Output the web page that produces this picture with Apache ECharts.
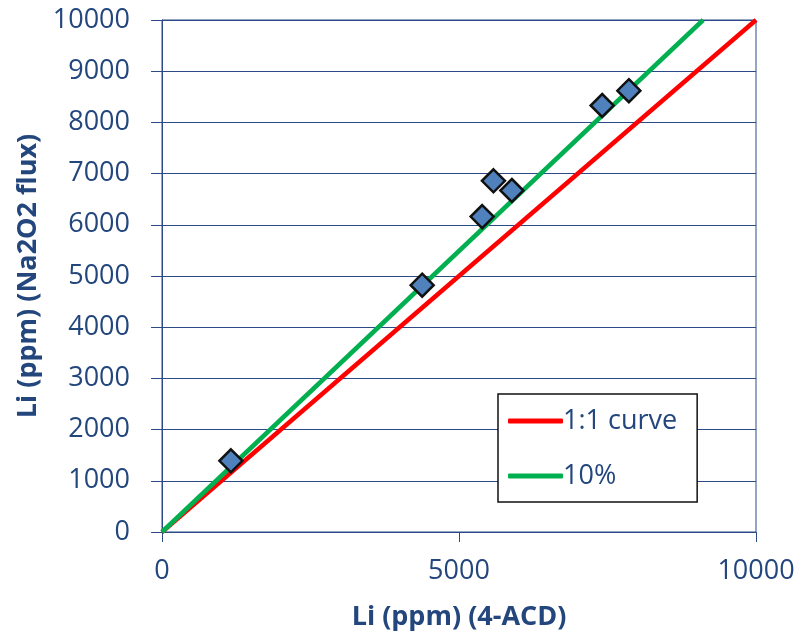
<!DOCTYPE html>
<html>
<head>
    <meta charset="utf-8">
    <title>Li (ppm) comparison</title>
    <script src="https://cdn.jsdelivr.net/npm/echarts@6/dist/echarts.min.js"></script>
    <style type="text/css">
        html, body { margin: 0; padding: 0; background: #ffffff; }
        #chart { width: 799px; height: 637px; }
    </style>
</head>
<body>
<div id="chart"></div>
<script>
    // values
    var pointsX = [1160, 4380, 5390, 5580, 5890, 7410, 7860];
    var pointsY = [1390, 4820, 6160, 6860, 6670, 8330, 8620];
    var oneToOneX = [0, 10000];
    var oneToOneY = [0, 10000];
    var tenPctX = [0, 9110];
    var tenPctY = [0, 10000];
    var seriesNames = ['1:1 curve', '10%'];

    function pairs(xs, ys) {
        var out = [];
        for (var i = 0; i < xs.length; i++) {
            out.push([xs[i], ys[i]]);
        }
        return out;
    }

    // plain numbers, no thousand separators
    function plain(v) {
        return String(v);
    }

    var textColor = '#23467d';
    var lineColor = '#2c4a86';
    var font = '"Open Sans", "DejaVu Sans", sans-serif';

    var chart = echarts.init(document.getElementById('chart'), null, {renderer: 'canvas'});
    var option = {
        animation: false,
        backgroundColor: '#ffffff',
        grid: {
            left: 162, right: 43, top: 20, bottom: 105,
            show: true,
            borderColor: lineColor,
            borderWidth: 1
        },
        legend: {
            data: seriesNames,
            orient: 'vertical',
            left: 498,
            top: 394,
            padding: [12, 20, 11, 10],
            itemGap: 25,
            itemWidth: 55,
            itemHeight: 5,
            icon: 'roundRect',
            backgroundColor: '#ffffff',
            borderColor: '#111111',
            borderWidth: 1.5,
            textStyle: {
                color: textColor,
                fontFamily: font,
                fontSize: 27,
                lineHeight: 30,
                padding: [0, 0, 0, -5]
            }
        },
        xAxis: {
            type: 'value',
            min: 0,
            max: 10000,
            interval: 5000,
            name: 'Li (ppm) (4-ACD)',
            nameLocation: 'middle',
            nameGap: 72,
            nameTextStyle: {
                color: textColor,
                fontFamily: font,
                fontWeight: 'bold',
                fontSize: 27
            },
            axisLine: {show: true, lineStyle: {color: lineColor, width: 1}},
            axisTick: {show: true, length: 10, lineStyle: {color: lineColor}},
            splitLine: {show: false},
            axisLabel: {
                color: textColor,
                fontFamily: font,
                fontSize: 27,
                margin: 26,
                formatter: plain
            }
        },
        yAxis: {
            type: 'value',
            min: 0,
            max: 10000,
            interval: 1000,
            name: 'Li (ppm) (Na2O2 flux)',
            nameLocation: 'middle',
            nameGap: 120,
            nameTextStyle: {
                color: textColor,
                fontFamily: font,
                fontWeight: 'bold',
                fontSize: 27
            },
            axisLine: {show: true, lineStyle: {color: lineColor, width: 1}},
            axisTick: {show: true, length: 11, lineStyle: {color: lineColor}},
            splitLine: {show: true, lineStyle: {color: lineColor, width: 1}},
            axisLabel: {
                color: textColor,
                fontFamily: font,
                fontSize: 27,
                margin: 32,
                formatter: plain
            }
        },
        series: [
            {
                name: seriesNames[0],
                type: 'line',
                data: pairs(oneToOneX, oneToOneY),
                symbol: 'none',
                color: '#ff0000',
                lineStyle: {color: '#ff0000', width: 4.5},
                z: 2
            },
            {
                name: seriesNames[1],
                type: 'line',
                data: pairs(tenPctX, tenPctY),
                symbol: 'none',
                color: '#00b050',
                lineStyle: {color: '#00b050', width: 4.5},
                z: 3
            },
            {
                name: 'samples',
                type: 'scatter',
                data: pairs(pointsX, pointsY),
                symbol: 'diamond',
                symbolSize: 23,
                itemStyle: {
                    color: '#4f81bd',
                    borderColor: '#111111',
                    borderWidth: 2.5,
                    opacity: 1
                },
                z: 4
            }
        ]
    };
    chart.setOption(option);
</script>
</body>
</html>
